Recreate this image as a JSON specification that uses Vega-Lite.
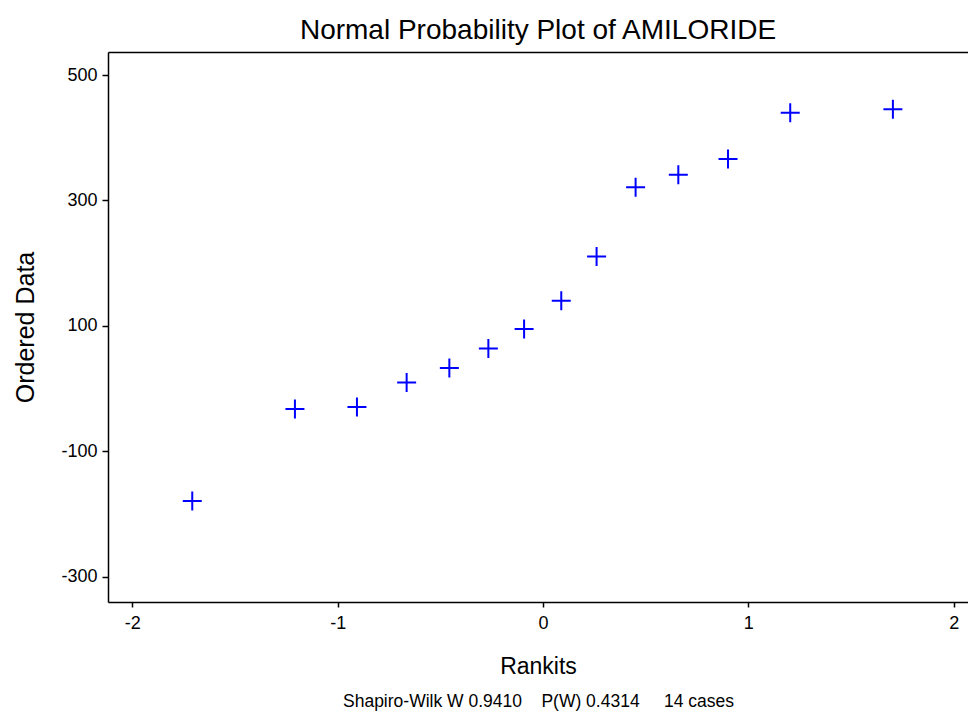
{
  "$schema": "https://vega.github.io/schema/vega-lite/v6.json",
  "autosize": "none",
  "width": 860,
  "height": 550,
  "padding": {"left": 108, "top": 52, "right": 0, "bottom": 114},
  "background": "white",
  "config": {
    "font": "Liberation Sans",
    "view": {"stroke": null},
    "axis": {"grid": false, "domainColor": "black", "domainWidth": 1.5, "tickColor": "black", "tickWidth": 1.5, "labelColor": "black", "titleColor": "black", "labelFont": "Liberation Sans", "titleFont": "Liberation Sans", "titleFontWeight": "normal"}
  },
  "title": {"text": "Normal Probability Plot of AMILORIDE", "fontSize": 28, "fontWeight": "normal", "font": "Liberation Sans", "color": "black", "anchor": "middle", "baseline": "alphabetic", "offset": -15},
  "data": {"values": [
    {"rankit": -1.708, "value": -179.4},
    {"rankit": -1.208, "value": -32.7},
    {"rankit": -0.906, "value": -29.5},
    {"rankit": -0.664, "value": 9.9},
    {"rankit": -0.456, "value": 32.7},
    {"rankit": -0.266, "value": 64.1},
    {"rankit": -0.092, "value": 94.9},
    {"rankit": 0.089, "value": 140.0},
    {"rankit": 0.261, "value": 210.8},
    {"rankit": 0.451, "value": 320.9},
    {"rankit": 0.659, "value": 341.0},
    {"rankit": 0.901, "value": 366.0},
    {"rankit": 1.204, "value": 439.9},
    {"rankit": 1.704, "value": 445.3}
  ]},
  "resolve": {"axis": {"x": "independent"}},
  "layer": [
    {
      "mark": {"type": "point", "shape": "M-1,0H1M0,-1V1", "filled": false, "stroke": "#0000ff", "strokeWidth": 2, "size": 361, "opacity": 1, "clip": true},
      "encoding": {
        "x": {"field": "rankit", "type": "quantitative", "scale": {"domain": [-2.1183, 2.0697], "nice": false, "zero": false},
          "axis": {"orient": "bottom", "title": "Rankits", "values": [-2, -1, 0, 1, 2], "labelExpr": "datum.value + ''", "labelFontSize": 18, "titleFontSize": 23, "tickSize": 5, "labelPadding": 7, "titlePadding": 23}},
        "y": {"field": "value", "type": "quantitative", "scale": {"domain": [-340.3, 536.7], "nice": false, "zero": false},
          "axis": {"title": "Ordered Data", "values": [-300, -100, 100, 300, 500], "labelExpr": "datum.value + ''", "labelFontSize": 18, "titleFontSize": 25, "tickSize": 6, "labelPadding": 5, "titlePadding": 22}}
      }
    },
    {
      "mark": {"type": "point", "opacity": 0, "size": 0},
      "encoding": {
        "x": {"field": "rankit", "type": "quantitative", "axis": {"orient": "top", "title": null, "labels": false, "ticks": false, "domain": true, "minExtent": 0, "maxExtent": 0}},
        "y": {"field": "value", "type": "quantitative"}
      }
    },
    {
      "mark": {"type": "point", "opacity": 0, "size": 0},
      "encoding": {
        "x": {"field": "rankit", "type": "quantitative", "axis": {"orient": "bottom", "title": "Shapiro-Wilk W 0.9410\u00a0\u00a0\u00a0\u00a0P(W) 0.4314\u00a0\u00a0\u00a0\u00a0\u00a014 cases", "labels": false, "ticks": false, "domain": false, "titleFontSize": 17.5, "titlePadding": 90}},
        "y": {"field": "value", "type": "quantitative"}
      }
    }
  ]
}
